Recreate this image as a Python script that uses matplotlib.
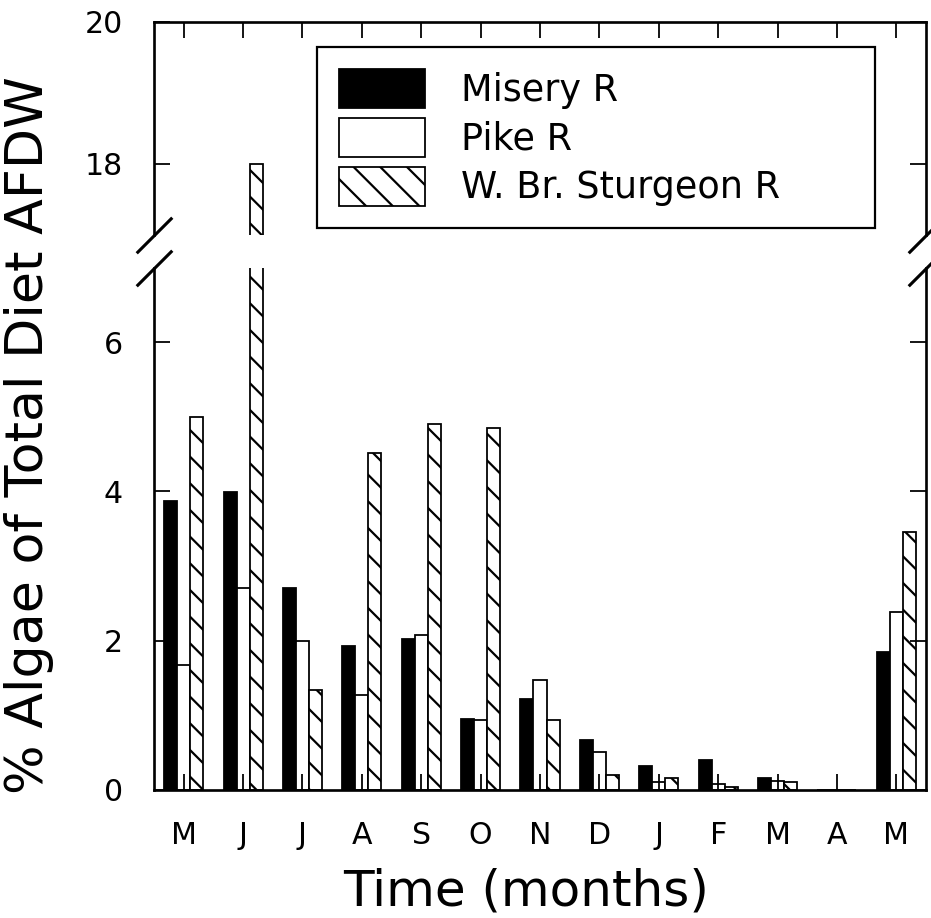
import numpy as np
import matplotlib
matplotlib.use("Agg")
import matplotlib.pyplot as plt

# data (% algae of total diet AFDW)
months = ['M', 'J', 'J', 'A', 'S', 'O', 'N', 'D', 'J', 'F', 'M', 'A', 'M']
misery = [3.87, 3.99, 2.70, 1.92, 2.02, 0.95, 1.21, 0.67, 0.32, 0.39, 0.16, 0.0, 1.84]
pike = [1.67, 2.70, 2.00, 1.27, 2.07, 0.93, 1.47, 0.50, 0.10, 0.07, 0.11, 0.0, 2.38]
sturgeon = [5.00, 18.0, 1.33, 4.52, 4.90, 4.85, 0.93, 0.20, 0.15, 0.04, 0.10, 0.0, 3.45]
series_names = ['Misery R', 'Pike R', 'W. Br. Sturgeon R']

plt.rcParams['font.family'] = 'DejaVu Sans'
plt.rcParams['hatch.linewidth'] = 1.0

DPI = 160
fig = plt.figure(figsize=(931 / DPI, 918 / DPI), dpi=DPI)

# axes placement (pixels -> figure fraction)
left, right = 154 / 931, 926 / 931
ax_top = fig.add_axes([left, 1 - 235 / 918, right - left, 213 / 918])
ax_bot = fig.add_axes([left, 1 - 789.5 / 918, right - left, 521.5 / 918])

x = np.arange(len(months))
w = 0.219

for ax in (ax_top, ax_bot):
    ax.bar(x - w, misery, w, color='black', edgecolor='black', linewidth=0.8)
    ax.bar(x, pike, w, color='white', edgecolor='black', linewidth=0.8)
    ax.bar(x + w, sturgeon, w, color='white', edgecolor='black', linewidth=0.8, hatch='\\\\')
    ax.set_xlim(-0.5, 12.5)
    for s in ax.spines.values():
        s.set_linewidth(1.2)
    ax.tick_params(axis='both', direction='in', length=7.2, width=0.8,
                   labelsize=13.5, pad=14)
    ax.set_xticks(x)

ax_top.set_ylim(17, 20)
ax_top.set_yticks([18, 20])
ax_top.spines['bottom'].set_visible(False)
ax_top.tick_params(axis='x', bottom=False, top=True, labelbottom=False)
ax_top.tick_params(axis='y', left=True, right=True)

ax_bot.set_ylim(0, 7)
ax_bot.set_yticks([0, 2, 4, 6])
ax_bot.spines['top'].set_visible(False)
ax_bot.tick_params(axis='x', bottom=True, top=False)
ax_bot.tick_params(axis='y', left=True, right=True)
ax_bot.set_xticklabels(months)

# break marks
kw = dict(marker=[(-1, -1), (1, 1)], markersize=16, linestyle='none',
          color='black', mec='black', mew=1.4, clip_on=False)
ax_top.plot([0, 1], [0, 0], transform=ax_top.transAxes, **kw)
ax_bot.plot([0, 1], [1, 1], transform=ax_bot.transAxes, **kw)

# labels
fig.text(526 / 931, 1 - 892 / 918, 'Time (months)', ha='center', va='center', fontsize=22.5)
fig.text(29 / 931, 1 - 435 / 918, '% Algae of Total Diet AFDW', ha='center', va='center',
         rotation=90, fontsize=23.5)

handles = ax_bot.containers
leg = fig.legend(handles, series_names, loc='upper left',
                 bbox_to_anchor=(317 / 931, 1 - 230 / 918, 558 / 931, 183 / 918),
                 bbox_transform=fig.transFigure, mode='expand', borderaxespad=0,
                 fontsize=16.5, handlelength=2.34, handleheight=1.25,
                 labelspacing=0.25, handletextpad=1.0, borderpad=0.6,
                 fancybox=False, framealpha=1, edgecolor='black')
leg.get_frame().set_linewidth(1.0)

fig.savefig('out.png', dpi=DPI)
